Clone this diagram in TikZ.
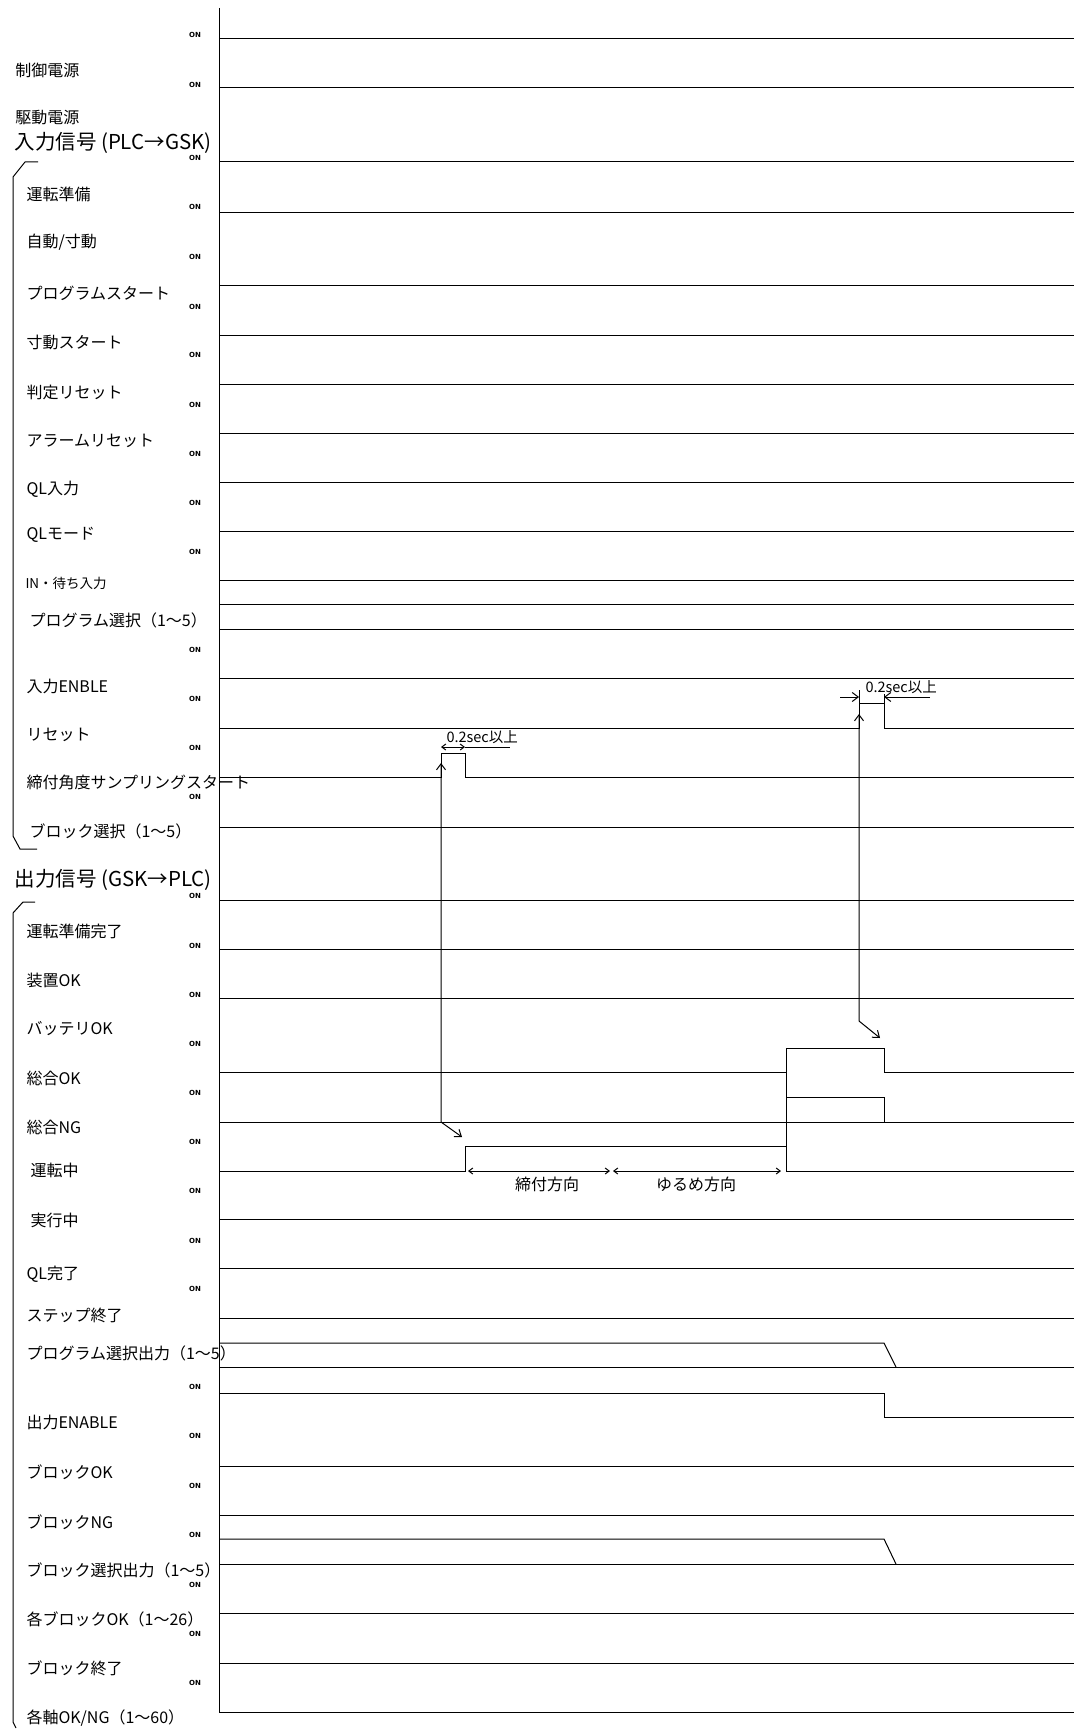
\documentclass[tikz,border=0pt]{standalone}
\usepackage{fontspec}
\setmainfont{Noto Sans CJK JP}
\newfontfamily\onfont{DejaVu Sans}
\usetikzlibrary{arrows.meta}

\begin{document}
\begin{tikzpicture}[x=1pt,y=-1pt,line width=1pt,
    >={Straight Barb[length=6pt,width=9pt]},
    lbl/.style={anchor=west,inner sep=0pt,font=\fontsize{16}{17}\selectfont},
    head/.style={anchor=west,inner sep=0pt,font=\fontsize{20.5}{22}\selectfont},
    onlbl/.style={inner sep=0pt,font=\onfont\bfseries\fontsize{7}{8}\selectfont},
    note/.style={anchor=west,inner sep=0pt,font=\fontsize{14.5}{15}\selectfont},
    dirlbl/.style={inner sep=0pt,font=\fontsize{16}{17}\selectfont},
    small arr/.style={>={Straight Barb[length=4pt,width=6pt]}}]
    \useasboundingbox (0,0) rectangle (1074,1731);
    % time axis and flat signals
    \draw (219,8) -- (219,1712);
    \foreach \y in {39,88,162,212,285,335,384,433,482,531,580,604,629,678,827,
                    900,949,998,1122,1219,1268,1318,1367,1466,1515,1564,1613,1663,1712}
      \draw (219,\y) -- (1074,\y);
    \foreach \y [count=\i] in {35,85,158,207,257,307,355,405,454,503,552,650,699,748,797,
                    896,946,995,1044,1093,1142,1191,1241,1289,1387,1436,1486,1535,1585,1634,1683}
      \node[onlbl] (on\i) at (195,\y) {ON};
    % power
    \node[lbl] (ctrlpw) at (15,70) {制御電源};
    \node[lbl] (drvpw) at (15,118) {駆動電源};
    % input signals
    \node[head] (inhead) at (14,143) {入力信号 (PLC→GSK)};
    \draw (38,162) -- (25,162) -- (13,177) -- (13,836) -- (20,849) -- (37,849);
    \foreach \x/\y/\t [count=\i] in {26/194/運転準備, 26/242/{自動/寸動}, 26/293/プログラムスタート,
        26/342/寸動スタート, 26/392/判定リセット, 26/441/アラームリセット, 26/489/QL入力,
        26/535/QLモード, 29/620/プログラム選択（1～5）, 26/686/入力ENBLE, 26/735/リセット,
        26/782/締付角度サンプリングスタート, 29/831/ブロック選択（1～5）}
      \node[lbl] (in\i) at (\x,\y) {\t};
    \node[lbl,font=\fontsize{13.5}{14}\selectfont] (inwait) at (25,583) {IN・待ち入力};
    \draw (219,728) -- (859,728) -- (859,703) -- (884,703) -- (884,728) -- (1074,728);
    \draw (219,777) -- (441,777) -- (441,753) -- (465,753) -- (465,777) -- (1074,777);
    % output signals
    \node[head] (outhead) at (14,880) {出力信号 (GSK→PLC)};
    \draw (35,902) -- (23,902) -- (13,913) -- (13,1722) -- (16,1728);
    \foreach \x/\y/\t [count=\i] in {26/931/運転準備完了, 26/980/装置OK, 26/1029/バッテリOK,
        26/1078/総合OK, 26/1127/総合NG, 30/1170/運転中, 30/1220/実行中, 26/1274/QL完了,
        26/1315/ステップ終了, 26/1353/プログラム選択出力（1～5）, 26/1422/出力ENABLE,
        26/1472/ブロックOK, 26/1522/ブロックNG, 26/1570/ブロック選択出力（1～5）,
        26/1619/各ブロックOK（1～26）, 26/1668/ブロック終了, 26/1718/{各軸OK/NG（1～60）}}
      \node[lbl] (out\i) at (\x,\y) {\t};
    \draw (219,1072) -- (786,1072);
    \draw (786,1048) -- (884,1048) -- (884,1072) -- (1074,1072);
    \draw (786,1097) -- (884,1097) -- (884,1122);
    \draw (219,1171) -- (465,1171) -- (465,1146) -- (786,1146);
    \draw (786,1048) -- (786,1171) -- (1074,1171);
    \draw (219,1343) -- (884,1343) -- (896,1367);
    \draw (219,1393) -- (884,1393) -- (884,1417) -- (1074,1417);
    \draw (219,1539) -- (884,1539) -- (896,1564);
    % timing relations
    \draw[<->] (441,763) -- (441,1122) -- (462,1137);
    \draw[<->] (859,714) -- (859,1021) -- (880,1038);
    \draw[small arr,<->] (441,747) -- (465,747);
    \draw (465,747) -- (510,747);
    \node[note] (min1) at (446,737) {0.2sec以上};
    \draw (859,690) -- (859,703);
    \draw (884,694) -- (884,703);
    \draw[->] (840,697) -- (859,697);
    \draw[->] (930,697) -- (884,697);
    \node[note] (min2) at (865,687) {0.2sec以上};
    \draw[small arr,<->] (468,1171) -- (610,1171);
    \draw[small arr,<->] (613,1171) -- (781,1171);
    \node[dirlbl] (tight) at (547,1184) {締付方向};
    \node[dirlbl] (loose) at (696,1184) {ゆるめ方向};
\end{tikzpicture}
\end{document}
